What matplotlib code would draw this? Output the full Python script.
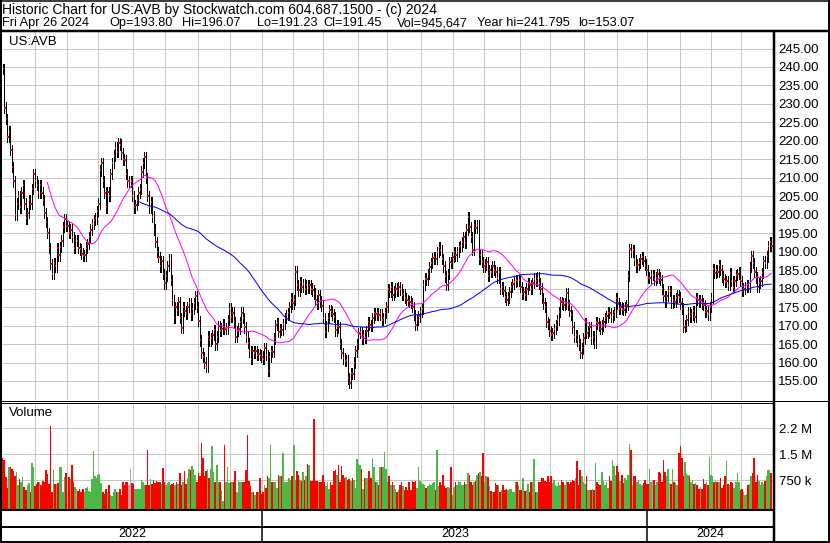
import numpy as np
import pandas as pd
import matplotlib
matplotlib.use("Agg")
import matplotlib.pyplot as plt

plt.rcParams['font.family'] = ['Liberation Sans', 'DejaVu Sans']

header1 = "Historic Chart for US:AVB by Stockwatch.com 604.687.1500 - (c) 2024"
header2 = ["Fri Apr 26 2024", "Op=193.80", "Hi=196.07", "Lo=191.23", "Cl=191.45",
           "Vol=945,647", "Year hi=241.795", "lo=153.07"]
symbol = "US:AVB"

# NYSE holidays in the shown range
holidays = ["2022-05-30", "2022-06-20", "2022-07-04", "2022-09-05", "2022-11-24",
            "2022-12-26", "2023-01-02", "2023-01-16", "2023-02-20", "2023-04-07",
            "2023-05-29", "2023-06-19", "2023-07-04", "2023-09-04", "2023-11-23",
            "2023-12-25", "2024-01-01", "2024-01-15", "2024-02-19", "2024-03-29"]

# daily closes
closes = [
    239.5, 229, 226, 221, 222.5, 217.5, 213, 209, 200, 203,
    205, 202, 206, 208, 203, 199, 200.5, 204, 203, 207,
    211, 209, 208, 206, 208, 206, 204, 200.5, 198, 195,
    191, 186.7, 184, 187, 186, 191, 189, 191.3, 193, 196.6,
    198.8, 197, 197, 195, 196, 194, 191, 193, 193, 191,
    190.6, 189.5, 188.8, 189, 191.1, 192, 194, 196, 197.5, 198.5,
    199, 201, 203, 212, 214, 209, 206, 202, 206.2, 205,
    211, 214, 216, 218.2, 217, 219.3, 219, 216.6, 215, 214.8,
    211, 209, 209, 209, 205, 202, 202.6, 204, 206, 207,
    211.7, 214, 215.5, 210, 205, 202, 203.5, 199.5, 196, 192.7,
    190, 188.6, 186, 187.5, 184, 181.4, 183.5, 186.2, 188, 182.3,
    177, 172, 175, 174.2, 176.4, 172, 169.4, 175.1, 174, 173.3,
    175, 176, 173, 174.6, 176, 178, 175, 171.2, 166, 162.5,
    161.5, 160, 158.9, 167, 166, 166.5, 167.5, 168.8, 164.9, 167,
    169.8, 168.5, 169.2, 170.5, 169, 169.2, 171.5, 174.6, 172.3, 173.5,
    171, 167, 168.5, 169.2, 171, 173.5, 172, 169.5, 167, 165.2,
    163, 161, 163, 162.5, 163, 162, 162.3, 162, 161.6, 161,
    164, 162, 157.7, 161.5, 163, 162.9, 166.5, 170.2, 170.6, 168.3,
    169, 168.8, 170.5, 172, 172.9, 173.3, 175, 177.4, 176, 177,
    184.6, 181, 179.5, 181.7, 180.5, 181.3, 180, 181, 180.3, 181,
    180, 179.5, 178.7, 177, 176, 178.3, 176.5, 175.4, 172, 168.2,
    169.8, 172, 174.1, 174, 173, 172.3, 168.7, 170, 169.5, 165,
    162.5, 161.1, 160.5, 160.7, 155.7, 154.4, 157.2, 157, 160, 163,
    165, 167.9, 168.3, 166.3, 167.5, 166.8, 168.5, 170.9, 170.2, 169.8,
    172, 173.4, 173, 173.3, 172.8, 173, 171.5, 172, 173.4, 175,
    179.9, 179, 180.5, 178.3, 179.2, 180, 179.5, 180.5, 179.8, 178.3,
    178.5, 177.5, 177, 176.6, 176.5, 176.1, 175, 172.8, 170.1, 171.5,
    172.5, 173.7, 174.5, 180.9, 182.7, 182.5, 184, 185.9, 187, 188.2,
    188.5, 188, 190, 191.3, 190.5, 188, 186, 183.3, 181, 184,
    187.2, 187, 188.5, 190, 189, 190, 191.3, 191.5, 192.7, 194,
    192.3, 196, 199.3, 196.6, 194, 190.5, 197.2, 196.5, 197.2, 188,
    189, 187.2, 186, 186.5, 187.2, 183.4, 185, 184.6, 186, 185,
    184.5, 183, 184.4, 179.9, 180.5, 179.4, 177.8, 177, 177.6, 179,
    180.4, 181.3, 181.8, 182.2, 182, 182.2, 180.4, 178.5, 179, 178.2,
    180, 181.4, 181, 180, 181.5, 182.7, 182, 183, 181.4, 180,
    177.5, 176, 175.1, 171, 170.5, 168.5, 167.4, 167.9, 169, 170.1,
    171.5, 173.7, 176.4, 176, 175.5, 176, 178.8, 175.6, 174, 172.9,
    169.5, 167, 167.4, 166, 164.9, 162.5, 163.8, 166.5, 170.7, 167.9,
    168.5, 169.6, 166.5, 167, 165.2, 171, 170.6, 169.8, 169.2, 170,
    171, 172, 172.5, 173.5, 173.4, 172.4, 172.8, 173.7, 177.4, 176,
    174.6, 175, 174.6, 174.2, 175, 175.5, 183.5, 190.8, 190, 190.5,
    187.7, 186, 186.5, 187, 188, 188.5, 187.5, 186.5, 185, 182.8,
    183, 183.7, 183.7, 182.5, 183, 184, 183, 182.3, 179.9, 178,
    176.5, 178, 179.4, 179.4, 176.1, 177, 176.5, 177.5, 178.3, 177.8,
    176, 174.6, 169.7, 170, 171.5, 173.7, 172.5, 173, 174, 172.4,
    177.4, 177, 176.5, 177, 176, 175.5, 173.6, 174, 173, 175,
    177.4, 185.2, 184.3, 185, 184.5, 186.4, 185, 183.3, 182.5, 181.9,
    182, 181, 184.3, 182, 180.5, 182, 183.7, 184, 184.5, 182,
    179.4, 180, 180.5, 181, 180.5, 185.8, 188.7, 187, 184.5, 183,
    180.5, 181.5, 182, 184.3, 187.5, 187, 188.7, 191.5, 192.5, 191.45,
]

# daily volume in millions of shares
volumes = [
    1.40, 1.34, 0.83, 0.52, 1.14, 1.12, 1.08, 1.00, 0.86, 0.98,
    0.62, 0.79, 0.69, 0.83, 0.54, 0.47, 0.62, 0.66, 0.42, 1.24,
    1.14, 0.57, 0.63, 0.69, 0.69, 0.60, 0.73, 0.69, 1.05, 0.92,
    0.63, 2.30, 0.42, 1.05, 0.63, 0.63, 0.66, 1.14, 1.12, 0.40,
    0.83, 0.95, 0.50, 0.83, 0.79, 1.19, 0.69, 0.54, 0.50, 0.44,
    0.50, 0.42, 0.50, 0.42, 0.52, 0.54, 0.44, 0.42, 0.79, 1.60,
    0.86, 0.81, 0.90, 0.92, 0.66, 0.42, 0.35, 0.50, 0.42, 0.62,
    0.33, 0.28, 0.40, 0.50, 0.42, 0.40, 0.50, 0.33, 0.69, 0.62,
    0.69, 0.69, 0.62, 1.08, 0.66, 0.63, 0.50, 0.50, 0.50, 0.50,
    0.75, 0.69, 0.62, 0.62, 1.63, 0.60, 0.79, 0.63, 0.76, 0.66,
    0.73, 0.71, 0.69, 0.63, 1.11, 0.69, 0.62, 0.66, 0.69, 0.62,
    0.63, 0.66, 0.62, 0.69, 0.63, 0.95, 0.62, 0.69, 1.02, 0.63,
    0.81, 1.08, 1.05, 1.17, 1.08, 0.90, 0.69, 0.95, 0.88, 1.82,
    1.38, 0.86, 1.00, 1.08, 0.81, 1.08, 1.72, 0.98, 0.69, 1.19,
    0.69, 0.69, 0.47, 0.15, 1.77, 0.69, 1.14, 0.66, 0.69, 0.69,
    0.69, 1.00, 0.42, 0.73, 0.69, 0.71, 0.69, 0.69, 1.05, 2.04,
    0.73, 0.57, 0.40, 0.42, 0.33, 0.40, 0.40, 0.81, 0.35,
    0.42, 0.62, 0.52, 0.86, 0.81, 1.77, 0.69, 0.71, 0.71, 0.52,
    0.90, 0.86, 0.86, 1.53, 0.69, 0.69, 0.69, 0.81, 0.76, 0.86,
    1.75, 0.76, 1.00, 0.90, 0.76, 0.73, 0.98, 0.76, 0.86, 1.21,
    1.19, 0.73, 0.73, 2.52, 0.73, 0.73, 0.69, 0.69, 0.69, 0.90,
    0.69, 0.57, 0.69, 0.50, 0.69, 0.62, 1.00, 1.05, 0.90, 1.19,
    0.71, 1.17, 0.90, 0.81, 0.83, 0.76, 0.79, 0.73, 0.81, 0.76,
    0.52, 1.37, 1.21, 1.19, 1.08, 0.50, 0.81, 0.81, 0.81, 1.02,
    0.81, 1.38, 1.14, 0.69, 0.69, 0.62, 1.14, 1.14, 1.14, 1.56,
    1.08, 0.69, 0.86, 0.60, 0.69, 0.62, 0.50, 0.40, 0.47, 0.60,
    0.69, 0.57, 0.47, 0.54, 0.47, 0.69, 0.47, 0.73, 0.69, 0.73,
    0.52, 1.14,
    0.73, 0.69, 0.63, 0.62, 0.52, 0.57, 0.63, 0.60, 0.66, 0.69,
    0.47, 1.63, 0.57, 0.69, 0.60, 0.90, 0.57, 0.52, 0.54, 0.52,
    1.14, 0.33, 0.54, 0.69, 0.60, 0.73, 0.69, 0.60, 0.60, 0.69,
    0.63, 0.95, 0.90, 0.71, 0.60, 0.69, 0.73, 0.90, 0.95, 0.98,
    0.86, 1.53, 0.69, 0.86, 0.83, 0.57, 0.44, 0.40, 0.42, 0.66,
    0.62, 0.60, 0.42, 0.47, 0.62, 0.47, 0.50, 0.47, 0.50, 0.50,
    0.42, 0.42, 0.69, 0.69, 0.62, 0.47, 0.47, 0.81, 0.44, 0.47,
    0.63, 0.42, 0.69, 0.69, 1.37, 0.42, 0.42, 0.71, 0.69, 0.81,
    0.81, 0.73, 0.69, 0.88, 0.69, 0.86, 0.66, 0.76, 0.62, 0.57,
    0.69, 0.62, 0.76, 0.69, 0.60, 0.73, 0.69, 0.63, 0.71, 0.76,
    0.73, 0.81, 1.30, 0.62, 1.05, 0.86, 0.69, 0.63, 0.86, 0.47,
    0.47, 0.47, 0.50, 0.47, 1.24, 0.69, 0.63, 0.62, 0.98, 0.73,
    0.62, 0.69, 0.52, 0.86, 0.73, 1.34, 1.17, 0.90, 1.17, 0.98,
    0.73, 0.90, 0.66, 0.81, 0.76, 0.90, 1.79, 1.63, 0.60, 0.86,
    0.86, 0.69, 0.76, 0.63, 0.62, 0.66, 0.76, 0.63, 0.63, 1.08,
    0.69, 0.76, 0.76, 0.62, 0.71, 0.98, 0.95, 0.69, 1.34, 0.98,
    0.86, 1.08, 0.66, 0.63, 1.08, 0.69, 0.66, 0.60, 1.53, 1.72,
    1.38, 0.86, 1.27, 0.95, 0.90, 0.86, 0.69, 0.76, 0.63, 0.66,
    0.62, 0.50, 0.54, 0.50, 0.79, 0.63, 0.69, 0.62, 1.43, 0.90,
    0.86, 0.71, 0.73, 0.69, 0.71, 0.81, 0.52, 0.60, 0.86, 1.31,
    0.63, 0.62, 0.69, 0.66, 0.52, 0.69, 0.95, 0.69, 0.47, 0.50,
    0.40, 0.33, 0.35, 0.62, 0.63, 0.86, 0.95, 1.38, 0.69, 0.90,
    0.73, 0.62, 0.69, 0.63, 0.73, 0.86, 1.05, 1.05, 0.95,
]

price_ticks = list(range(155, 250, 5))
vol_ticks = [0.75, 1.5, 2.25]
vol_labels = ["750 k", "1.5 M", "2.2 M"]

W, H = 830, 543
PX = 0.72  # one pixel in points at 100 dpi
FS = 9.5


def rect(x0, y0, x1, y1):
    return [x0 / W, 1 - y1 / H, (x1 - x0) / W, (y1 - y0) / H]


n = min(len(closes), len(volumes))
close = pd.Series(closes[:n], dtype=float)
vol = np.array(volumes[:n])
dates = pd.bdate_range("2022-05-02", periods=n, freq="C", holidays=holidays)
idx = np.arange(n)

opens = close.shift(1).fillna(close.iloc[0])
hi = np.maximum(opens, close) + 1.4
lo = np.minimum(opens, close) - 1.4
ma_short = close.rolling(30).mean()
ma_long = close.rolling(90).mean()

chg = close.diff().fillna(-1)
vcol = np.where(chg > 0, "#4cb848", np.where(chg < 0, "#ff0000", "#a8a8a8"))

month_start = idx[1:][dates[1:].month != dates[:-1].month]
year_start = idx[1:][dates[1:].year != dates[:-1].year]

fig = plt.figure(figsize=(W / 100, H / 100), dpi=100)
grid_c = "#c8c8c8"
xlim = (-1.1, 500.2)

ax_p = fig.add_axes(rect(1, 32, 773, 400))
ax_v = fig.add_axes(rect(1, 402, 773, 509))
ax_y = fig.add_axes(rect(1, 511, 773, 541))
for ax in (ax_p, ax_v, ax_y):
    ax.set_xlim(*xlim)
    ax.set_xticks([])
    for s in ax.spines.values():
        s.set_visible(False)
for ax in (ax_p, ax_v):
    ax.vlines(month_start - 0.3, 0, 1, transform=ax.get_xaxis_transform(),
              colors=grid_c, lw=PX, zorder=0)

# price panel
ax_p.set_ylim(149.85, 249.47)
ax_p.hlines(price_ticks, *xlim, colors=grid_c, lw=PX, zorder=0)
ax_p.vlines(idx, lo, hi, colors="black", lw=PX, antialiased=False, zorder=2)
ax_p.hlines(close, idx, idx + 0.9, colors="red", lw=1.6 * PX, antialiased=False, zorder=3)
ax_p.plot(idx, ma_short, color="#ff00ff", lw=PX, zorder=4)
ax_p.plot(idx, ma_long, color="#0000ff", lw=PX, zorder=4)
ax_p.yaxis.tick_right()
ax_p.set_yticks(price_ticks)
ax_p.set_yticklabels([f"{v:.2f}" for v in price_ticks])
ax_p.tick_params(axis="y", length=0, pad=3.5, labelsize=FS)

# volume panel
ax_v.set_ylim(-0.08, 3.0)
ax_v.hlines(vol_ticks, *xlim, colors=grid_c, lw=PX, zorder=0)
ax_v.bar(idx, vol + 0.08, bottom=-0.08, width=1.0, color=vcol,
         antialiased=False, zorder=2)
ax_v.yaxis.tick_right()
ax_v.set_yticks(vol_ticks)
ax_v.set_yticklabels(vol_labels)
ax_v.tick_params(axis="y", length=0, pad=4.5, labelsize=FS)

# year row
ax_y.set_ylim(0, 1)
ax_y.set_yticks([])
ax_y.vlines(year_start - 0.3, 0, 1, colors="black", lw=1.5 * PX)
edges = [xlim[0]] + list(year_start) + [xlim[1]]
for k in range(len(edges) - 1):
    ax_y.text((edges[k] + edges[k + 1]) / 2, 0.22, str(dates[0].year + k),
              ha="center", va="center", fontsize=9)

# frame, separators and header drawn on top in pixel units
bg = fig.add_axes([0, 0, 1, 1], zorder=10)
bg.set_xlim(0, W)
bg.set_ylim(H, 0)
bg.axis("off")
bg.patch.set_visible(False)
k = dict(color="black", solid_capstyle="butt")
bg.plot([0, W], [0.5, 0.5], lw=1.5 * PX, **k)
bg.plot([1, 1], [0, 542], lw=2 * PX, **k)
bg.plot([829, 829], [0, 542], lw=2 * PX, **k)
bg.plot([0, W], [541.5, 541.5], lw=2 * PX, **k)
bg.plot([0, W], [31, 31], lw=2.5 * PX, **k)
bg.plot([773.5, 773.5], [31, 542], lw=2.5 * PX, **k)
bg.plot([0, W], [400.5, 400.5], lw=PX, **k)
bg.plot([0, 773], [402.5, 402.5], lw=PX, **k)
bg.plot([0, 773], [510, 510], lw=2 * PX, **k)
bg.plot([0, 773], [527, 527], lw=2 * PX, **k)

bg.text(2, 10, header1, ha="left", va="center", fontsize=10)
for s, x in zip(header2, [2, 109, 182, 257, 323, 397, 477, 578]):
    bg.text(x, 23, s, ha="left", va="center", fontsize=9.2)
bg.text(9, 42, symbol, ha="left", va="center", fontsize=FS)
bg.text(9, 413, "Volume", ha="left", va="center", fontsize=FS)

fig.savefig("out.png", dpi=100)
